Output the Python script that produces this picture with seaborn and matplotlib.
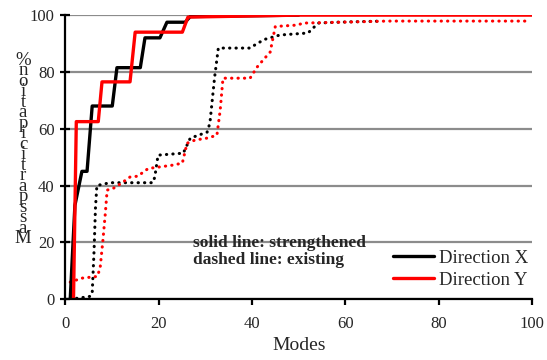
import matplotlib
matplotlib.use("Agg")
import matplotlib.pyplot as plt
import seaborn as sns
import pandas as pd

# ---- data ----
x_str_X = [1.1, 2.1, 3.6, 4.7, 5.8, 10.1, 11.1, 16.1, 17.1, 20.3, 21.8, 25.7, 26.8, 50.0]
y_str_X = [0, 33, 45, 45, 68, 68, 81.5, 81.5, 92, 92, 97.5, 97.5, 99.5, 100]

x_str_Y = [1.8, 2.4, 7.1, 7.9, 13.9, 15.0, 25.1, 26.3, 50.0, 100.0]
y_str_Y = [0, 62.5, 62.5, 76.5, 76.5, 94, 94, 99.3, 100, 100]

x_ex_X = [1.1, 4.3, 5.4, 5.8, 6.2, 6.5, 6.8, 9.6, 18.8, 19.2, 19.9, 25.3, 26.8, 30.4,
          31.0, 32.0, 32.8, 39.6, 41.1, 42.8, 46.0, 52.0, 54.2, 58.2, 68.0]
y_ex_X = [0, 0.7, 1, 2, 17, 32, 40, 41, 41, 43, 50.7, 51.4, 56.7, 58.8,
          62, 78, 88.4, 88.4, 90, 91.5, 93, 93.7, 97.2, 97.5, 97.9]

x_ex_Y = [1.1, 3.6, 6.9, 7.5, 8.1, 8.6, 9.0, 10.3, 11.3, 12.2, 13.9, 15.6, 16.7, 17.8,
          23.1, 25.1, 26.1, 27.8, 30.4, 32.5, 33.2, 33.8, 39.6, 41.1, 42.4, 43.9, 45.0,
          49.7, 51.0, 69.0, 99.6]
y_ex_Y = [6, 7.4, 8, 11, 20.8, 30, 38.4, 39, 40, 41, 43, 43.3, 44.7, 46,
          47.2, 47.9, 54.9, 56, 56.7, 57.7, 66.5, 77.8, 77.8, 81.7, 84.2, 87, 96,
          96.5, 97.2, 97.9, 97.9]

xticks = [0, 20, 40, 60, 80, 100]
yticks = [0, 20, 40, 60, 80, 100]
x_label = "Modes"
y_label = "Mass participation %"
legend_labels = ["Direction X", "Direction Y"]
note = "solid line: strengthened\ndashed line: existing"

# ---- style ----
sns.set_theme(style="white")
plt.rcParams["font.family"] = ["Liberation Serif", "DejaVu Serif"]

fig = plt.figure(figsize=(5.47, 3.60), dpi=100)
ax = fig.add_axes([0.119, 0.169, 0.854, 0.789])

dot = dict(linestyle=(0, (0.1, 2.0)), dash_capstyle="round", linewidth=2.2)

sns.lineplot(x=x_ex_X, y=y_ex_X, ax=ax, color="black", sort=False, estimator=None, **dot)
sns.lineplot(x=x_ex_Y, y=y_ex_Y, ax=ax, color="#ff0000", sort=False, estimator=None, **dot)
sns.lineplot(x=x_str_X, y=y_str_X, ax=ax, color="black", linewidth=2.4, sort=False,
             estimator=None, label=legend_labels[0])
sns.lineplot(x=x_str_Y, y=y_str_Y, ax=ax, color="#ff0000", linewidth=2.4, sort=False,
             estimator=None, label=legend_labels[1])

ax.set_xlim(0, 100)
ax.set_ylim(0, 100)
ax.set_xticks(xticks)
ax.set_yticks(yticks)
ax.set_xticklabels([str(t) for t in xticks], fontsize=12)
ax.set_yticklabels([str(t) for t in yticks], fontsize=12)
ax.grid(axis="y", color="#8c8c8c", linewidth=1.6)
ax.set_axisbelow(True)
for s in ["top", "right"]:
    ax.spines[s].set_visible(False)
for s in ["left", "bottom"]:
    ax.spines[s].set_color("black")
    ax.spines[s].set_linewidth(1.6)
ax.tick_params(axis="y", direction="inout", length=7, width=1.6, color="black", pad=4,
               left=True)
ax.tick_params(axis="x", direction="out", length=4, width=1.6, color="black", pad=8,
               bottom=True)

ax.set_xlabel(x_label, fontsize=14, labelpad=4)
ax.set_ylabel("")

stacked = "\n".join(reversed(y_label.replace(" ", "")))
fig.text(0.042, 0.585, stacked, fontsize=13.5, linespacing=0.5, ha="center",
         va="center", multialignment="center")

ax.text(0.274, 0.225, note, transform=ax.transAxes, fontsize=12.5, fontweight="bold",
        va="top", ha="left", linespacing=1.05)

ax.legend(loc="lower left", bbox_to_anchor=(0.685, 0.01), frameon=False, fontsize=13.5,
          handlelength=2.2, handletextpad=0.25, labelspacing=0.25, borderaxespad=0)

fig.savefig("out.png", dpi=100)
